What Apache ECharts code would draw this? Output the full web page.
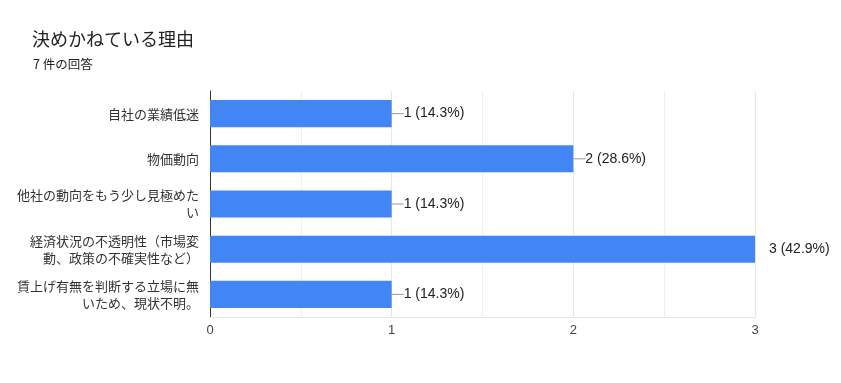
<!DOCTYPE html>
<html>
<head>
<meta charset="utf-8">
<script src="https://cdn.jsdelivr.net/npm/echarts@6/dist/echarts.min.js"></script>
<style>
html,body{margin:0;padding:0;background:#fff;}
#c{width:841px;height:383px;}
</style>
</head>
<body>
<div id="c"></div>
<script>
var titleText = '決めかねている理由';
var subtitleText = '7 件の回答';
var categories = [
  '自社の業績低迷',
  '物価動向',
  '他社の動向をもう少し見極めた\nい',
  '経済状況の不透明性（市場変\n動、政策の不確実性など）',
  '賃上げ有無を判断する立場に無\nいため、現状不明。'
];
var counts = [1, 2, 1, 3, 1];
var responses = 7;
var xTicks = [0, 1, 2, 3];

var font = '"Noto Sans CJK JP", "Noto Sans", Roboto, sans-serif';
var numFont = '"Liberation Sans", Arial, sans-serif';
var maxCount = Math.max.apply(null, counts);

var chart = echarts.init(document.getElementById('c'), null, {renderer: 'canvas'});
chart.setOption({
  animation: false,
  backgroundColor: '#fff',
  title: [
    {text: titleText, left: 27, top: 25, textStyle: {fontFamily: font, fontSize: 18, fontWeight: 'normal', color: '#202124'}},
    {text: subtitleText, left: 28, top: 53, textStyle: {fontFamily: font, fontSize: 12.5, fontWeight: 'normal', color: '#202124'}}
  ],
  grid: {left: 210, right: 86, top: 91, bottom: 66, containLabel: false},
  xAxis: {
    type: 'value',
    min: xTicks[0],
    max: xTicks[xTicks.length - 1],
    interval: 1,
    axisLine: {show: true, lineStyle: {color: '#e6e6e6'}},
    axisTick: {show: false},
    minorTick: {show: false, splitNumber: 2},
    minorSplitLine: {show: true, lineStyle: {color: '#f0f0f0'}},
    splitLine: {show: true, lineStyle: {color: '#e6e6e6'}},
    axisLabel: {fontFamily: numFont, fontSize: 13, color: '#444', margin: 7}
  },
  yAxis: {
    type: 'category',
    inverse: true,
    data: categories,
    axisLine: {show: true, lineStyle: {color: '#333', width: 1}},
    axisTick: {show: false},
    axisLabel: {fontFamily: font, fontSize: 13, color: '#333', margin: 11, lineHeight: 17, align: 'right'}
  },
  series: [{
    type: 'bar',
    data: counts,
    barWidth: '60%',
    itemStyle: {color: '#4285f4'},
    label: {
      show: true,
      position: 'right',
      distance: 0,
      fontFamily: numFont,
      fontSize: 14,
      color: '#222',
      formatter: function (p) {
        var pct = (p.value / responses * 100).toFixed(1);
        var txt = p.value + ' (' + pct + '%)';
        if (p.value === maxCount) return '{gap|}' + txt;
        return '{dash|}' + txt;
      },
      rich: {
        dash: {width: 12, height: 1, backgroundColor: '#999', padding: 0},
        gap: {width: 14}
      }
    }
  }]
});
</script>
</body>
</html>
